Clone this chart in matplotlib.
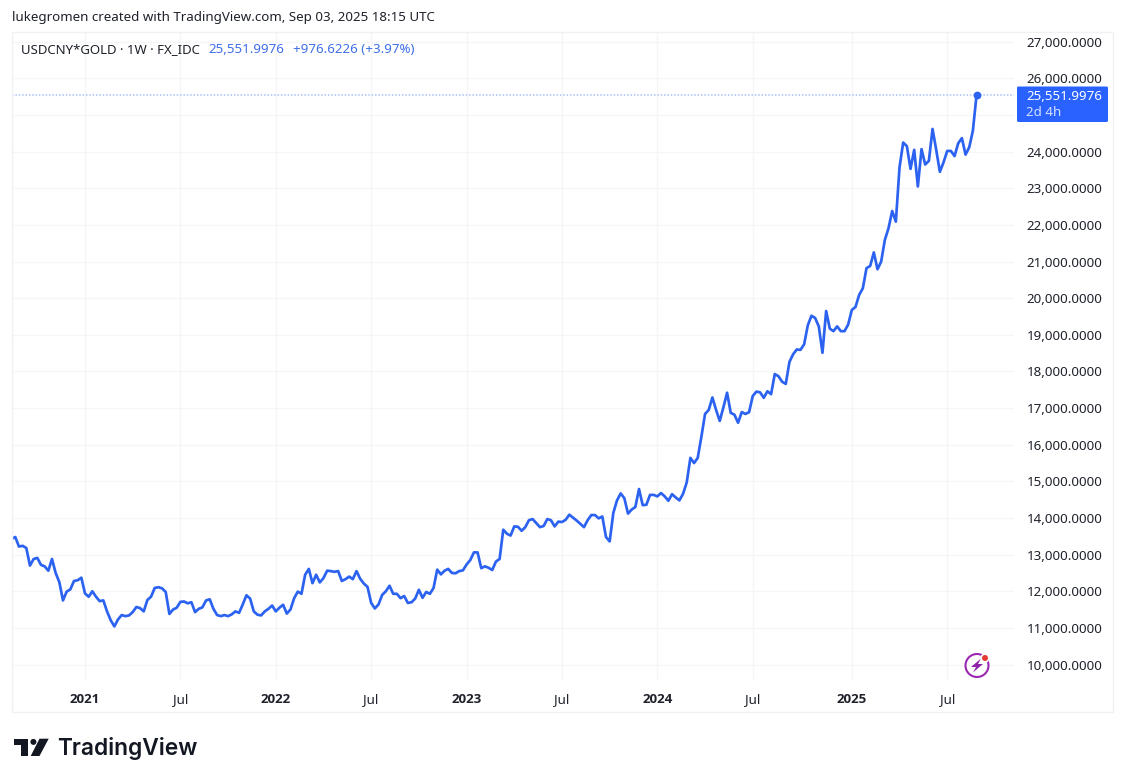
import matplotlib
matplotlib.use("Agg")
import matplotlib.pyplot as plt
import matplotlib.dates as mdates
from matplotlib.patches import Rectangle, Polygon, Circle, FancyBboxPatch
import pandas as pd

W, H = 1125, 783
FONT = "Noto Sans"
plt.rcParams["font.family"] = [FONT, "DejaVu Sans"]

BLUE = "#2c62f0"
TEXT = "#1f222b"
GRID = "#f5f6f8"

first_week = "2020-08-17"
prices_k = [
 13.43,13.48,13.22,13.24,13.18,12.70,12.88,12.91,12.72,12.68,
 12.56,12.88,12.50,12.25,11.75,11.99,12.05,12.28,12.30,12.37,
 11.94,11.85,12.00,11.85,11.73,11.75,11.45,11.21,11.04,11.23,
 11.35,11.32,11.34,11.43,11.57,11.54,11.45,11.76,11.85,12.09,
 12.11,12.08,11.98,11.38,11.50,11.55,11.71,11.72,11.67,11.70,
 11.43,11.52,11.56,11.75,11.78,11.52,11.35,11.32,11.35,11.32,
 11.37,11.45,11.41,11.64,11.89,11.80,11.45,11.36,11.34,11.45,
 11.52,11.61,11.45,11.55,11.63,11.39,11.50,11.81,11.99,11.93,
 12.45,12.61,12.22,12.45,12.24,12.36,12.56,12.55,12.53,12.55,
 12.28,12.33,12.40,12.33,12.55,12.34,12.21,12.12,11.68,11.53,
 11.64,11.90,12.00,12.15,11.93,11.93,11.81,11.87,11.68,11.70,
 11.80,12.04,11.82,11.98,11.93,12.09,12.59,12.46,12.56,12.61,
 12.50,12.49,12.55,12.57,12.73,12.85,13.06,13.06,12.63,12.68,
 12.64,12.58,12.81,12.88,13.68,13.57,13.52,13.77,13.76,13.65,
 13.75,13.94,13.97,13.86,13.75,13.78,13.97,13.94,13.77,13.90,
 13.89,13.95,14.09,14.01,13.93,13.84,13.75,13.94,14.08,14.08,
 13.99,14.04,13.48,13.36,14.14,14.48,14.67,14.54,14.12,14.23,
 14.30,14.79,14.35,14.36,14.63,14.63,14.59,14.68,14.59,14.47,
 14.65,14.56,14.48,14.66,14.97,15.64,15.50,15.64,16.22,16.84,
 16.95,17.29,16.95,16.65,17.02,17.42,16.87,16.82,16.60,16.89,
 16.84,16.89,17.33,17.45,17.43,17.28,17.46,17.38,17.93,17.87,
 17.72,17.66,18.26,18.47,18.60,18.59,18.74,19.26,19.52,19.46,
 19.23,18.51,19.65,19.17,19.10,19.23,19.10,19.10,19.28,19.68,
 19.76,20.09,20.27,20.82,20.88,21.25,20.79,21.00,21.59,21.91,
 22.38,22.09,23.57,24.25,24.15,23.53,24.05,23.05,24.07,23.65,
 23.75,24.62,24.05,23.45,23.71,24.02,24.02,23.88,24.23,24.37,
 23.92,24.12,24.575,25.552,
]
last_price = 25551.9976
prices = [p * 1000 for p in prices_k[:-1]] + [last_price]

price_ticks = list(range(10000, 27001, 1000))
hidden_tick = 25000
time_ticks = ["2021-01-04","2021-07-05","2022-01-03","2022-07-04","2023-01-02",
              "2023-07-03","2024-01-01","2024-07-01","2025-01-06","2025-07-07"]
time_labels = ["2021","Jul","2022","Jul","2023","Jul","2024","Jul","2025","Jul"]

weeks = pd.date_range(first_week, periods=len(prices), freq="7D")

fig = plt.figure(figsize=(W/100, H/100), dpi=100, facecolor="white")
PL, PR, PT, PB = 11.5, 1013.5, 31.5, 680.5
ax = fig.add_axes([PL/W, 1-PB/H, (PR-PL)/W, (PB-PT)/H])
ax.plot(weeks, prices, color=BLUE, lw=1.95, solid_joinstyle="round", zorder=3)
ax.plot(weeks[-1], last_price, "o", color=BLUE, ms=5.6, mec="none", zorder=4)
ax.axhline(last_price, color="#a9c1f7", lw=1.1, ls=(0, (1, 1.2)), zorder=2)

# scales calibrated on tick spacing: 36.63 px per 1000, 3.669 px per week
ax.set_ylim(10000 - (PB-664.5)/36.63*1000, 10000 + (664.5-PT)/36.63*1000)
d_per_px = 7/3.669
x0 = mdates.date2num(pd.Timestamp("2021-01-04"))
ax.set_xlim(x0 - (85-PL)*d_per_px, x0 + (PR-85)*d_per_px)

ax.set_xticks([mdates.date2num(pd.Timestamp(t)) for t in time_ticks])
ax.set_xticklabels(time_labels)
ax.tick_params(axis="x", length=0, pad=9, labelsize=9.6, labelcolor=TEXT)
for lab, s in zip(ax.get_xticklabels(), time_labels):
    if s != "Jul":
        lab.set_family(["Open Sans", "DejaVu Sans"])
        lab.set_fontweight("bold")
ax.yaxis.tick_right()
ax.set_yticks(price_ticks)
ax.set_yticklabels(["" if t == hidden_tick else f"{t:,.4f}" for t in price_ticks])
ax.tick_params(axis="y", length=0, pad=9.5, labelsize=9.6, labelcolor=TEXT)
ax.grid(True, color=GRID, lw=1)
ax.set_axisbelow(True)
for s in ax.spines.values():
    s.set_visible(False)

ov = fig.add_axes([0, 0, 1, 1], facecolor="none")
ov.set_xlim(0, W); ov.set_ylim(H, 0); ov.axis("off")

# frame
ov.add_patch(Rectangle((11.5, 31.5), 1101.5, 680.5, fill=False, ec="#f0f1f3", lw=1))

# header / legend
ov.text(12, 17, "lukegromen created with TradingView.com, Sep 03, 2025 18:15 UTC",
        fontsize=9.6, color=TEXT, va="center", ha="left")
ov.text(21, 49.7, "USDCNY*GOLD · 1W · FX_IDC", fontsize=9.5, color=TEXT, va="center")
ov.text(208, 49.7, "25,551.9976", fontsize=9.6, color="#3f6fe8", va="center")
ov.text(293, 49.7, "+976.6226 (+3.97%)", fontsize=9.6, color="#3f6fe8", va="center")

# last price tag
ov.add_patch(FancyBboxPatch((1017, 86.5), 91, 35.5, boxstyle="round,pad=0,rounding_size=1.5",
                            fc="#2962FF", ec="none"))
ov.text(1026, 96, "25,551.9976", fontsize=9.6, color="white", va="center")
ov.text(1026, 112, "2d 4h", fontsize=9.6, color="#d5e0ff", va="center")

# bolt icon
ov.add_patch(Circle((977, 665.5), 11.5, fill=False, ec="#9c27b0", lw=1.5))
ov.add_patch(Polygon([(981, 658.5), (971, 667), (976, 667), (973, 672.5), (983, 664), (978, 664)],
                     closed=True, fc="#8e24aa", ec="none"))
ov.add_patch(Circle((985, 658), 4.6, fc="white", ec="none"))
ov.add_patch(Circle((985, 658), 3, fc="#e53935", ec="none"))

# TradingView logo
LOGO = "#131722"
ov.add_patch(Polygon([(14, 738.7), (28.3, 738.7), (28.3, 756), (21, 756), (21, 745.3), (14, 745.3)],
                     closed=True, fc=LOGO, ec="none"))
ov.add_patch(Circle((33.4, 741.9), 3.0, fc=LOGO, ec="none"))
ov.add_patch(Polygon([(39.5, 738.7), (48.7, 738.7), (39.5, 756), (30.7, 756)],
                     closed=True, fc=LOGO, ec="none"))
ov.text(57.5, 748.5, "TradingView", fontsize=16.4, fontweight="semibold", family="Inter",
        color=LOGO, va="center", ha="left")

fig.savefig("out.png", dpi=100)
